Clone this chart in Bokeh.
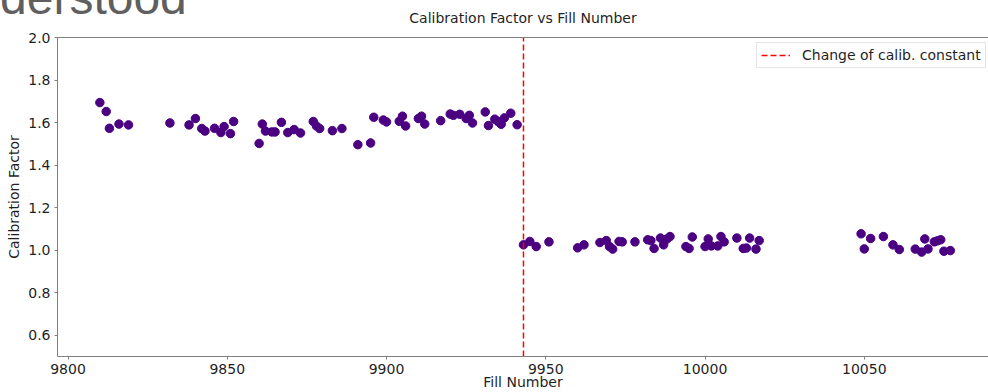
from bokeh.plotting import figure
from bokeh.layouts import column
from bokeh.models import (ColumnDataSource, Range1d, LinearAxis, FixedTicker,
                          Legend, LegendItem, Div)
from bokeh.embed import file_html
from bokeh.resources import INLINE

# Calibration factor per LHC fill
fills = [
    9810, 9812, 9813, 9816, 9819, 9832, 9838, 9840, 9842, 9843,
    9846, 9848, 9849, 9851, 9852, 9860, 9861, 9862, 9864, 9865,
    9867, 9869, 9871, 9873, 9877, 9878, 9879, 9883, 9886, 9891,
    9895, 9896, 9899, 9900, 9904, 9905, 9906, 9910, 9911, 9912,
    9917, 9920, 9921, 9923, 9925, 9926, 9927, 9931, 9932, 9934,
    9935, 9936, 9937, 9939, 9941,
    9943, 9945, 9947, 9951, 9960, 9962, 9967, 9969, 9970, 9971,
    9973, 9974, 9978, 9982, 9983, 9984, 9986, 9987, 9988, 9989,
    9994, 9995, 9996, 10000, 10001, 10002, 10004, 10005, 10006, 10010,
    10012, 10013, 10014, 10016, 10017, 10049, 10050, 10052, 10056, 10059,
    10061, 10066, 10068, 10069, 10070, 10072, 10073, 10074, 10075, 10077,
]
factors = [
    1.694, 1.652, 1.573, 1.593, 1.589, 1.598, 1.589, 1.619, 1.572, 1.560,
    1.573, 1.553, 1.581, 1.548, 1.605, 1.502, 1.593, 1.560, 1.556, 1.556,
    1.601, 1.553, 1.567, 1.551, 1.605, 1.584, 1.572, 1.562, 1.572, 1.496,
    1.504, 1.625, 1.612, 1.603, 1.606, 1.630, 1.584, 1.619, 1.630, 1.593,
    1.609, 1.640, 1.634, 1.639, 1.619, 1.634, 1.598, 1.650, 1.586, 1.616,
    1.605, 1.592, 1.622, 1.644, 1.590,
    1.025, 1.041, 1.017, 1.039, 1.011, 1.025, 1.036, 1.045, 1.017, 1.005,
    1.041, 1.039, 1.039, 1.049, 1.045, 1.008, 1.057, 1.025, 1.052, 1.064,
    1.017, 1.008, 1.062, 1.017, 1.053, 1.020, 1.020, 1.064, 1.039, 1.057,
    1.008, 1.010, 1.057, 1.005, 1.045, 1.077, 1.006, 1.055, 1.064, 1.025,
    1.003, 1.005, 0.991, 1.053, 1.006, 1.039, 1.044, 1.049, 0.995, 0.998,
]

change_fill = 9943  # first fill with the new calibration constant

x_ticks = [9800, 9850, 9900, 9950, 10000, 10050]
y_ticks = [0.6, 0.8, 1.0, 1.2, 1.4, 1.6, 1.8, 2.0]
y_lo, y_hi = 0.5, 2.0

FONT = "DejaVu Sans"
SPINE = "#808080"
TEXT = "#1f1f1f"

p = figure(
    width=988, height=392,
    output_backend="svg", toolbar_location=None,
    x_range=Range1d(9796.7, 10089.0),
    y_range=Range1d(y_lo, y_hi),
    min_border_left=57, min_border_right=0,
    min_border_top=37, min_border_bottom=36,
    background_fill_color="white", border_fill_color="white",
    title="Calibration Factor vs Fill Number",
)
p.grid.visible = False
p.outline_line_color = None

p.title.align = "center"
p.title.vertical_align = "top"
p.title.text_font = FONT
p.title.text_font_size = "14px"
p.title.text_font_style = "normal"
p.title.text_color = TEXT
p.title.standoff = 19
p.title.offset = 2

for ax in (p.xaxis[0], p.yaxis[0]):
    ax.axis_line_color = SPINE
    ax.axis_line_width = 1
    ax.major_tick_line_color = SPINE
    ax.major_tick_out = 3
    ax.major_tick_in = 0
    ax.minor_tick_line_color = None
    ax.major_label_text_font = FONT
    ax.major_label_text_font_size = "14px"
    ax.major_label_text_color = TEXT
    ax.major_label_standoff = 4
    ax.axis_label_text_font = FONT
    ax.axis_label_text_font_size = "14px"
    ax.axis_label_text_font_style = "normal"
    ax.axis_label_text_color = TEXT

p.xaxis[0].ticker = FixedTicker(ticks=x_ticks)
p.yaxis[0].ticker = FixedTicker(ticks=y_ticks)
p.yaxis[0].major_label_overrides = {t: f"{t:.1f}" for t in y_ticks}

p.xaxis[0].axis_label = "Fill Number"
p.xaxis[0].axis_label_standoff = -3
p.yaxis[0].axis_label = "Calibration Factor"
p.yaxis[0].axis_label_standoff = 3

# top spine
top = LinearAxis(
    ticker=FixedTicker(ticks=[]),
    axis_line_color=SPINE, axis_line_width=1,
    major_tick_line_color=None, minor_tick_line_color=None,
    major_label_text_font_size="0px", major_label_standoff=0,
    major_tick_out=0, major_tick_in=0,
)
p.add_layout(top, "above")

src = ColumnDataSource(dict(fill=fills, factor=factors))
p.scatter("fill", "factor", source=src, size=8.5, color="#4b0082", line_color="#4b0082")

vline = p.line(x=[change_fill, change_fill], y=[y_lo, y_hi],
               line_color="#ff0000", line_dash="6 3", line_width=1.5)

legend = Legend(
    items=[LegendItem(label="Change of calib. constant", renderers=[vline])],
    location=(699, 288),
    margin=0, padding=4, spacing=0,
    glyph_width=29, glyph_height=14, label_height=14, label_standoff=12,
    label_text_font=FONT, label_text_font_size="14px", label_text_color=TEXT,
    border_line_color="#cccccc", border_line_width=1,
    background_fill_color="white", background_fill_alpha=0.8,
)
p.add_layout(legend)

# slide heading fragment sitting above the plot
heading = Div(
    text=('<div style="font-family:\'Liberation Sans\',Arial,sans-serif;'
          'font-size:48px;line-height:48px;color:#5f5f5f;white-space:nowrap;'
          'margin:0;padding:0">derstood</div>'),
    styles={"position": "absolute", "left": "0px", "top": "-25.6px",
            "z-index": "10", "margin": "0", "padding": "0"},
)

layout = column(p, heading)

open("out.html", "w").write(file_html(layout, INLINE))
